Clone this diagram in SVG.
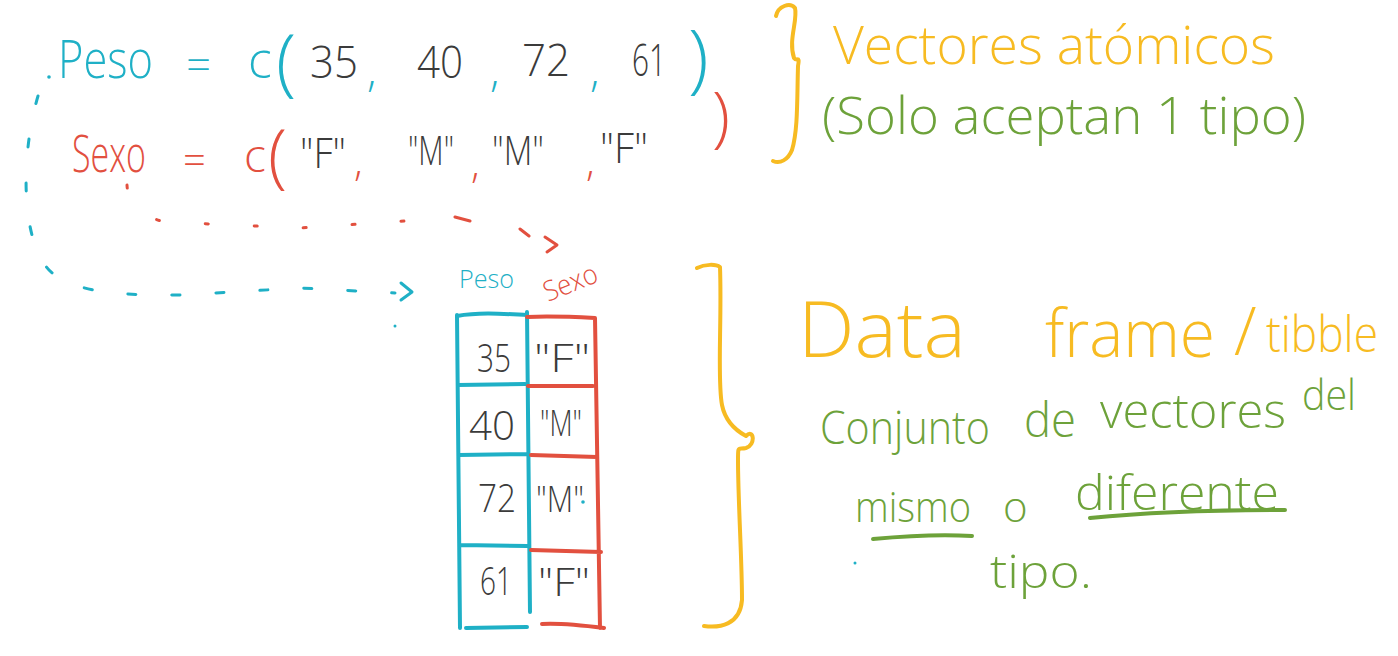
<svg xmlns="http://www.w3.org/2000/svg" width="1398" height="656" viewBox="0 0 1398 656">
<style>
text{font-family:"Open Sans","Liberation Sans",sans-serif;font-weight:300}
.t{fill:#1fb0c6}.r{fill:#e2503f}.k{fill:#3b3b3b}.y{fill:#f7bb22}.g{fill:#6da23a}
.ls{fill:none;stroke-linecap:round;stroke-linejoin:round}
.st{stroke:#1fb0c6}.sr{stroke:#e2503f}.sy{stroke:#f7bb22}.sg{stroke:#6da23a}
</style>
<rect width="1398" height="656" fill="#ffffff"/>
<g id="peso-vector">
<circle cx="49" cy="77" r="1.8" fill="#1fb0c6"/>
<text class="t" x="58" y="78" font-size="54" textLength="95" lengthAdjust="spacingAndGlyphs">Peso</text>
<text class="t" x="186" y="80" font-size="44">=</text>
<text class="t" x="248" y="78" font-size="50">c</text>
<text class="t" x="276" y="87" font-size="74">(</text>
<text class="k" x="310" y="78" font-size="44" textLength="48" lengthAdjust="spacingAndGlyphs">35</text>
<text class="t" x="367" y="86" font-size="44">,</text>
<text class="k" x="417" y="78" font-size="44" textLength="46" lengthAdjust="spacingAndGlyphs">40</text>
<text class="t" x="490" y="86" font-size="44">,</text>
<text class="k" x="522" y="76" font-size="44" textLength="48" lengthAdjust="spacingAndGlyphs">72</text>
<text class="t" x="590" y="86" font-size="44">,</text>
<text class="k" x="632" y="76" font-size="44" textLength="34" lengthAdjust="spacingAndGlyphs">61</text>
<text class="t" x="688" y="84" font-size="76">)</text>
</g>
<g id="sexo-vector">
<text class="r" x="72" y="172" font-size="52" textLength="74" lengthAdjust="spacingAndGlyphs">Sexo</text>
<text class="r" x="183" y="174" font-size="40">=</text>
<text class="r" x="244" y="172" font-size="46">c</text>
<text class="r" x="268" y="180" font-size="70">(</text>
<text class="k" x="300" y="168" font-size="42" textLength="46" lengthAdjust="spacingAndGlyphs">"F"</text>
<text class="r" x="354" y="176" font-size="40">,</text>
<text class="k" x="408" y="165" font-size="40" textLength="46" lengthAdjust="spacingAndGlyphs">"M"</text>
<text class="r" x="471" y="178" font-size="40">,</text>
<text class="k" x="492" y="165" font-size="40" textLength="52" lengthAdjust="spacingAndGlyphs">"M"</text>
<text class="r" x="586" y="176" font-size="40">,</text>
<text class="k" x="600" y="163" font-size="42" textLength="48" lengthAdjust="spacingAndGlyphs">"F"</text>
<text class="r" x="712" y="140" font-size="66">)</text>
</g>
<g id="connectors">
<path class="ls st" stroke-width="3" stroke-dasharray="8 36" d="M38,96 C22,150 20,230 45,265 C62,290 110,296 180,295 L300,288 L395,293"/>
<path class="ls st" stroke-width="3" d="M401,283 L412,292 L401,300"/>
<circle cx="395" cy="326" r="1.5" fill="#1fb0c6"/>
<path class="ls sr" stroke-width="3" stroke-dasharray="3 46" d="M127,185 C128,205 140,216 165,222 L300,228 L420,220"/>
<path class="ls sr" stroke-width="3" d="M455,217 L470,221 M520,229 L529,236"/>
<path class="ls sr" stroke-width="3" d="M545,237 L557,245 L547,252"/>
</g>
<g id="data-frame">
<text class="t" x="459" y="288" font-size="26" textLength="55" lengthAdjust="spacingAndGlyphs">Peso</text>
<text class="r" x="548" y="302" font-size="28" textLength="56" lengthAdjust="spacingAndGlyphs" transform="rotate(-22 548 302)">Sexo</text>
<path class="ls st" stroke-width="4" d="M457,315 L460,628 M527,312 L530,612 M457,316 C480,312 505,314 527,315 M458,385 L525,384 M459,455 L527,454 M460,545 L527,546 M466,628 L527,627"/>
<path class="ls sr" stroke-width="4" d="M527,317 C550,316 575,317 595,318 L600,628 M528,386 L593,386 M531,455 L597,457 M531,550 L601,552 M542,624 C560,623 580,625 604,628"/>
<text class="k" x="477" y="372" font-size="38" textLength="34" lengthAdjust="spacingAndGlyphs">35</text>
<text class="k" x="534" y="372" font-size="38" textLength="56" lengthAdjust="spacingAndGlyphs">"F"</text>
<text class="k" x="469" y="440" font-size="40" textLength="46" lengthAdjust="spacingAndGlyphs">40</text>
<text class="k" x="540" y="436" font-size="36" textLength="42" lengthAdjust="spacingAndGlyphs">"M"</text>
<text class="k" x="478" y="512" font-size="38" textLength="38" lengthAdjust="spacingAndGlyphs">72</text>
<text class="k" x="536" y="512" font-size="36" textLength="48" lengthAdjust="spacingAndGlyphs">"M"</text>
<circle cx="583" cy="502" r="1.8" fill="#1fb0c6"/>
<text class="k" x="480" y="595" font-size="38" textLength="32" lengthAdjust="spacingAndGlyphs">61</text>
<text class="k" x="538" y="596" font-size="38" textLength="52" lengthAdjust="spacingAndGlyphs">"F"</text>
</g>
<g id="brace-atomic">
<path class="ls sy" stroke-width="4" d="M776,16 C778,6 790,2 795,8 C798,20 788,40 794,58 C797,62 800,55 798,66 C797,100 798,130 792,150 C788,160 780,164 773,161"/>
</g>
<g id="brace-dataframe">
<path class="ls sy" stroke-width="4" d="M697,268 C705,264 716,264 720,267 C722,320 717,380 722,405 C725,420 735,430 746,436 C754,428 756,445 746,448 C738,450 738,445 738,460 C738,500 742,560 742,600 C740,625 720,628 704,626"/>
</g>
<g id="label-atomic">
<text class="y" x="833" y="64" font-size="54" textLength="442" lengthAdjust="spacingAndGlyphs">Vectores atómicos</text>
<text class="g" x="822" y="134" font-size="52" textLength="484" lengthAdjust="spacingAndGlyphs">(Solo aceptan 1 tipo)</text>
</g>
<g id="label-dataframe">
<text class="y" x="798" y="357" font-size="78" textLength="168" lengthAdjust="spacingAndGlyphs">Data</text>
<text class="y" x="1045" y="357" font-size="66" textLength="170" lengthAdjust="spacingAndGlyphs">frame</text>
<text class="y" x="1234" y="355" font-size="66">/</text>
<text class="y" x="1266" y="352" font-size="50" textLength="112" lengthAdjust="spacingAndGlyphs">tibble</text>
<text class="g" x="820" y="444" font-size="46" textLength="170" lengthAdjust="spacingAndGlyphs">Conjunto</text>
<text class="g" x="1024" y="437" font-size="48" textLength="52" lengthAdjust="spacingAndGlyphs">de</text>
<text class="g" x="1100" y="428" font-size="48" textLength="186" lengthAdjust="spacingAndGlyphs">vectores</text>
<text class="g" x="1302" y="410" font-size="42" textLength="54" lengthAdjust="spacingAndGlyphs">del</text>
<text class="g" x="855" y="522" font-size="42" textLength="116" lengthAdjust="spacingAndGlyphs">mismo</text>
<path class="ls sg" stroke-width="4" d="M873,539 C905,536 940,534 972,536"/>
<text class="g" x="1003" y="522" font-size="42">o</text>
<text class="g" x="1075" y="510" font-size="48" textLength="204" lengthAdjust="spacingAndGlyphs">diferente</text>
<path class="ls sg" stroke-width="4" d="M1090,518 C1150,512 1220,510 1285,510"/>
<circle cx="855" cy="563" r="1.5" fill="#1fb0c6"/>
<text class="g" x="990" y="588" font-size="46" textLength="102" lengthAdjust="spacingAndGlyphs">tipo.</text>
</g>
</svg>
